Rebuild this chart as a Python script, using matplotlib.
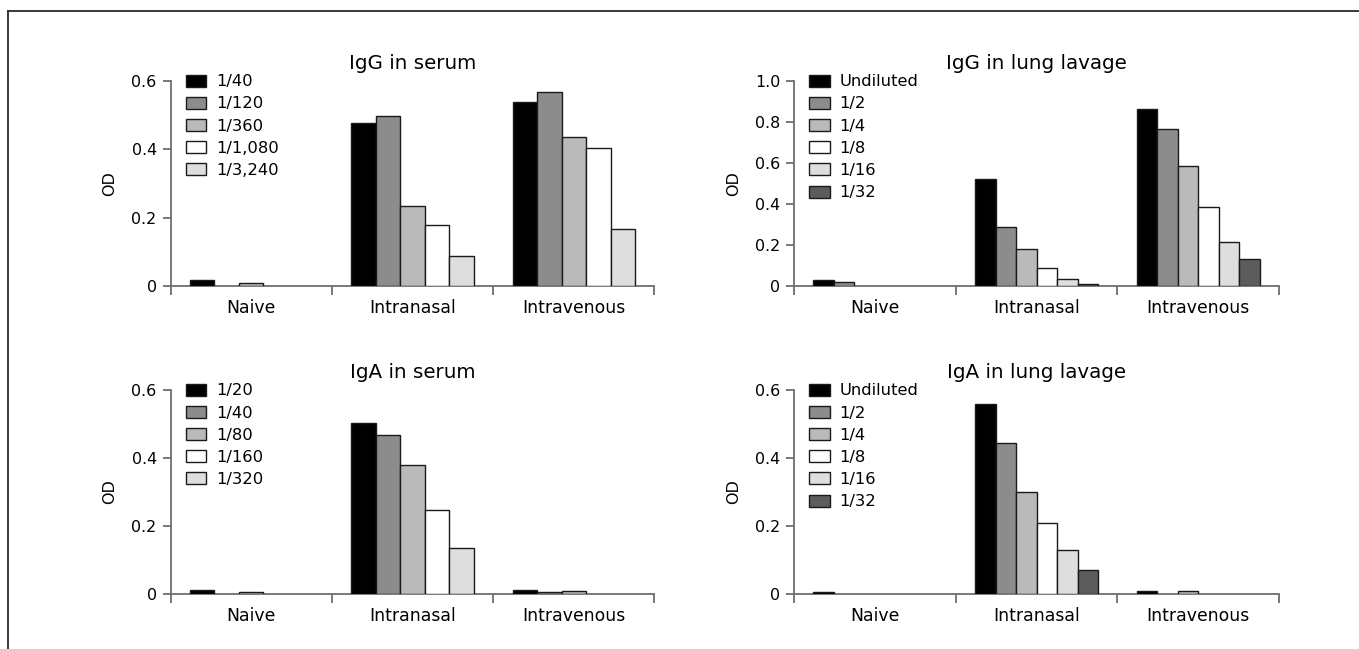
import numpy as np
import matplotlib
matplotlib.use('Agg')
import matplotlib.pyplot as plt
from matplotlib.patches import Patch
from matplotlib.lines import Line2D
from matplotlib.ticker import FixedLocator, FuncFormatter

plt.rcParams['font.family'] = ['DejaVu Sans']

groups = ['Naive', 'Intranasal', 'Intravenous']

# dilutions
igg_serum_dil = ['1/40', '1/120', '1/360', '1/1,080', '1/3,240']
iga_serum_dil = ['1/20', '1/40', '1/80', '1/160', '1/320']
lavage_dil = ['Undiluted', '1/2', '1/4', '1/8', '1/16', '1/32']

# OD values, one row per group (Naive, Intranasal, Intravenous)
igg_serum = [[0.018, 0, 0.010, 0, 0],
             [0.478, 0.497, 0.235, 0.179, 0.088],
             [0.538, 0.568, 0.435, 0.403, 0.166]]
igg_lavage = [[0.028, 0.018, 0, 0, 0, 0],
              [0.520, 0.287, 0.180, 0.086, 0.034, 0.011],
              [0.862, 0.768, 0.587, 0.386, 0.216, 0.133]]
iga_serum = [[0.011, 0, 0.006, 0, 0],
             [0.504, 0.469, 0.379, 0.248, 0.135],
             [0.012, 0.006, 0.009, 0, 0]]
iga_lavage = [[0.007, 0, 0, 0, 0, 0],
              [0.559, 0.444, 0.300, 0.210, 0.130, 0.070],
              [0.009, 0, 0.009, 0, 0, 0]]

serum_colors = ['#000000', '#8c8c8c', '#bababa', '#ffffff', '#dedede']
lavage_colors = ['#000000', '#8c8c8c', '#bababa', '#ffffff', '#dedede', '#5c5c5c']

axis_grey = '#6e6e6e'
edge = '#1a1a1a'


def fmt(v, pos):
    if abs(v) < 1e-9:
        return '0'
    return '%.1f' % v


def panel(ax, values, dil, colors, title, ytop, yticks):
    n = len(dil)
    w = 0.76 / n
    x0 = np.arange(len(groups)) + 0.5 - 0.38 + w / 2
    for i in range(n):
        h = [row[i] for row in values]
        lw = [1.0 if v > 0 else 0 for v in h]
        ax.bar(x0 + i * w, h, w, color=colors[i], edgecolor=edge,
               linewidth=lw, zorder=3)

    ax.set_xlim(0, 3)
    ax.set_ylim(0, ytop)
    for s in ['top', 'right']:
        ax.spines[s].set_visible(False)
    for s in ['left', 'bottom']:
        ax.spines[s].set_color(axis_grey)
        ax.spines[s].set_linewidth(1.3)
        ax.spines[s].set_zorder(2)

    ax.xaxis.set_major_locator(FixedLocator([0, 1, 2, 3]))
    ax.xaxis.set_major_formatter(FuncFormatter(lambda v, p: ''))
    ax.xaxis.set_minor_locator(FixedLocator([0.5, 1.5, 2.5]))
    ax.set_xticklabels(groups, minor=True)
    ax.tick_params(axis='x', which='major', direction='out', length=6.5,
                   width=1.3, color=axis_grey)
    ax.tick_params(axis='x', which='minor', length=0, pad=9, labelsize=12.4)

    ax.set_yticks(yticks)
    ax.yaxis.set_major_formatter(FuncFormatter(fmt))
    ax.tick_params(axis='y', direction='out', length=6, width=1.3,
                   color=axis_grey, pad=4, labelsize=11.4)
    ax.set_ylabel('OD', fontsize=11.5, labelpad=10)
    ax.set_title(title, fontsize=14.3, pad=8.5)

    handles = [Patch(facecolor=colors[i], edgecolor=edge, linewidth=1.0)
               for i in range(n)]
    ax.legend(handles, dil, loc='upper left', bbox_to_anchor=(0.031, 1.033),
              frameon=False, fontsize=11.8, handlelength=1.26,
              handleheight=0.75, handletextpad=0.6, labelspacing=0.44,
              borderpad=0, borderaxespad=0)


fig = plt.figure(figsize=(13.59, 6.49), dpi=100)

ax1 = fig.add_axes([0.1255, 0.5593, 0.3561, 0.3159])
ax2 = fig.add_axes([0.5843, 0.5593, 0.3569, 0.3159])
ax3 = fig.add_axes([0.1255, 0.0847, 0.3561, 0.3143])
ax4 = fig.add_axes([0.5843, 0.0847, 0.3569, 0.3143])

panel(ax1, igg_serum, igg_serum_dil, serum_colors, 'IgG in serum', 0.6,
      [0, 0.2, 0.4, 0.6])
panel(ax2, igg_lavage, lavage_dil, lavage_colors, 'IgG in lung lavage', 1.0,
      [0, 0.2, 0.4, 0.6, 0.8, 1.0])
panel(ax3, iga_serum, iga_serum_dil, serum_colors, 'IgA in serum', 0.6,
      [0, 0.2, 0.4, 0.6])
panel(ax4, iga_lavage, lavage_dil, lavage_colors, 'IgA in lung lavage', 0.6,
      [0, 0.2, 0.4, 0.6])

# frame lines along the top and left of the figure
top_y = 1 - 10.7 / 649
left_x = 8.0 / 1359
fig.add_artist(Line2D([left_x, 1], [top_y, top_y], transform=fig.transFigure,
                      color='#2a2a2a', linewidth=1.3))
fig.add_artist(Line2D([left_x, left_x], [0, top_y], transform=fig.transFigure,
                      color='#2a2a2a', linewidth=1.3))

fig.savefig('out.png', dpi=100)
